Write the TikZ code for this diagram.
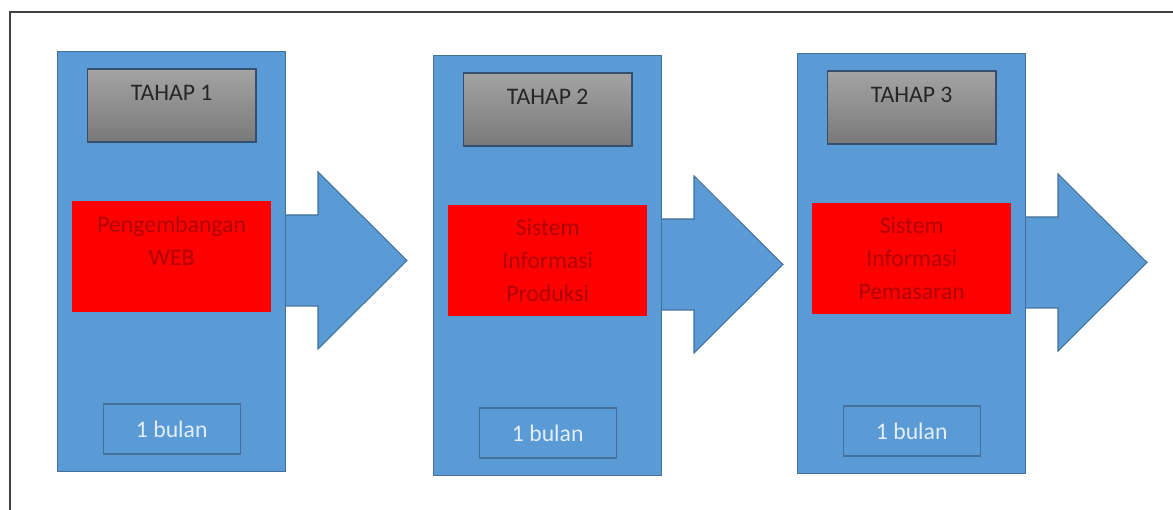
\documentclass[tikz,border=0pt]{standalone}
\usepackage{fontspec}
\setmainfont{Carlito}
\usetikzlibrary{
    calc,
    positioning
}
\definecolor{panelblue}{HTML}{5B9BD5}
\definecolor{paneledge}{HTML}{41719C}
\definecolor{grayedge}{HTML}{35506E}
\definecolor{darktext}{HTML}{262626}
\definecolor{redtext}{HTML}{B00000}
\definecolor{lighttext}{HTML}{E2EEF9}
\tikzset{
  every node/.style={
    font=\fontsize{13.5}{18.8}\selectfont,
    inner sep=0pt
  },
  panel/.style={
    draw=paneledge,
    line width=0.8pt,
    fill=panelblue,
    minimum width=4.56cm,
    minimum height=8.4cm,
    anchor=north west
  },
  tahapbox/.style={
    draw=grayedge,
    line width=0.9pt,
    top color=gray!72,
    bottom color=gray!95!black,
    text=darktext,
    minimum width=3.37cm,
    text height=0.63cm,
    text depth=0.83cm
  },
  sysbox/.style={
    fill=red,
    text=redtext,
    align=center,
    minimum width=3.99cm,
    minimum height=2.22cm
  },
  timebox/.style={
    draw=paneledge,
    line width=0.8pt,
    fill=panelblue,
    text=lighttext,
    minimum width=2.74cm,
    minimum height=1.0cm
  },
  flow/.style={
    draw=paneledge,
    line width=0.6pt,
    fill=panelblue
  },
  frame/.style={
    draw=black!75,
    line width=1.5pt
  }
}

\begin{document}
\begin{tikzpicture}
\useasboundingbox (0,0) rectangle (23.46,-10.2);
\draw[frame] (23.46,-0.24) -- (0.2,-0.24) -- (0.2,-10.2);
\foreach \tah/\x/\y/\sys in {
    1/1.14/-1.02/{Pengembangan\\WEB\\\phantom{W}},
    2/8.66/-1.1/{Sistem\\Informasi\\Produksi},
    3/15.94/-1.06/{Sistem\\Informasi\\Pemasaran}} {
\draw[flow] ($(\x,\y)+(4.56,-3.28)$) -- ++(0.66,0) -- ++(0,0.86)
    -- ($(\x,\y)+(7.0,-4.19)$) -- ($(\x,\y)+(5.22,-5.96)$) -- ++(0,0.86)
    -- ($(\x,\y)+(4.56,-5.1)$) -- cycle;
\node[panel] (p\tah) at (\x,\y) {};
\node[tahapbox, below=0.35cm of p\tah.north] (t\tah) {TAHAP \tah};
\node[sysbox, below=3.0cm of p\tah.north] (s\tah) {\sys};
\node[timebox, above=0.35cm of p\tah.south] (d\tah) {1 bulan};
}
\end{tikzpicture}
\end{document}
